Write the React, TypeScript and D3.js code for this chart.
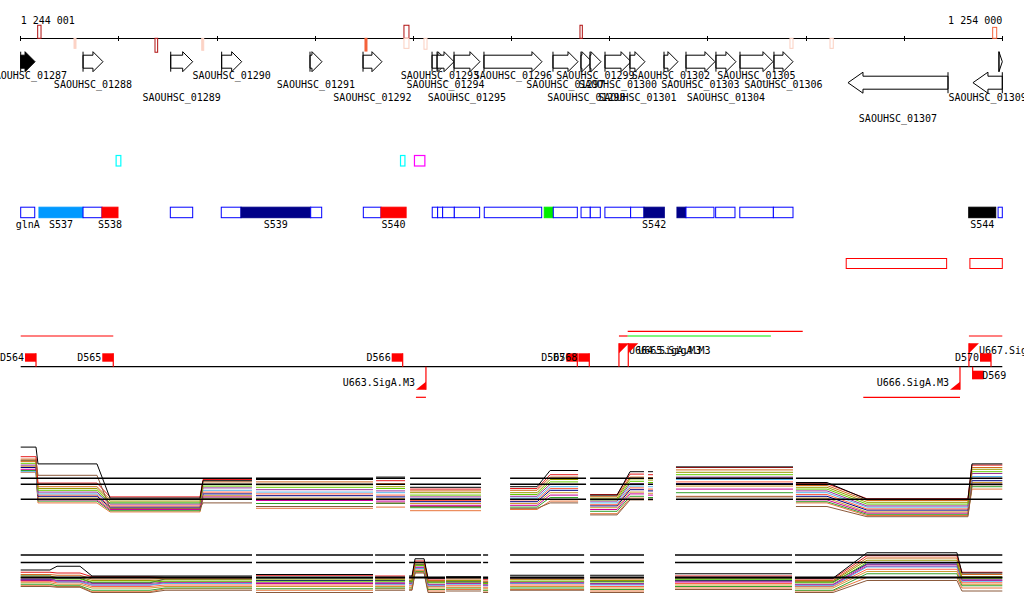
import React from "react";
import * as d3 from "d3";

// ---------- data ----------
const GENOME_START = 1244001;
const GENOME_END = 1254000;

const axisTicks = [1244001, 1245001, 1246001, 1247001, 1248001, 1249001, 1250001, 1251001, 1252001, 1253001, 1254000];
const axisLabels = [1244001, 1254000];

const geneNames = [
  "SAOUHSC_01287", "SAOUHSC_01288", "SAOUHSC_01289", "SAOUHSC_01290", "SAOUHSC_01291",
  "SAOUHSC_01292", "SAOUHSC_01293", "SAOUHSC_01294", "SAOUHSC_01295", "SAOUHSC_01296",
  "SAOUHSC_01297", "SAOUHSC_01298", "SAOUHSC_01299", "SAOUHSC_01300", "SAOUHSC_01301",
  "SAOUHSC_01302", "SAOUHSC_01303", "SAOUHSC_01304", "SAOUHSC_01305", "SAOUHSC_01306",
  "SAOUHSC_01307", "SAOUHSC_01308", "SAOUHSC_01309",
];
const geneStarts = [1243950, 1244636, 1245529, 1246048, 1246948, 1247488, 1248191, 1248242, 1248415, 1248720,
  1249423, 1249708, 1249800, 1249953, 1250207, 1250554, 1250778, 1251083, 1251328, 1251674,
  1252428, 1253966, 1253701];
const geneEnds = [1244147, 1244839, 1245753, 1246252, 1247070, 1247681, 1248353, 1248415, 1248679, 1249311,
  1249678, 1249820, 1249912, 1250218, 1250360, 1250696, 1251073, 1251287, 1251664, 1251868,
  1253447, 1254120, 1254250];
const geneStrands = [1, 1, 1, 1, 1, 1, 1, 1, 1, 1, 1, 1, 1, 1, 1, 1, 1, 1, 1, 1, -1, 1, -1];
const selectedGene = "SAOUHSC_01287";

const markerStarts = [1244174, 1244544, 1245369, 1245845, 1247508, 1247905, 1247905, 1248109, 1249698, 1251837, 1252245, 1253902];
const markerEnds = [1244208, 1244564, 1245396, 1245865, 1247528, 1247956, 1247956, 1248140, 1249722, 1251868, 1252278, 1253943];
const markerSides = [1, -1, -1, -1, -1, 1, -1, -1, 1, -1, -1, 1];
const markerScores = [0.87, 0.67, 0.93, 0.8, 0.85, 0.87, 0.67, 0.73, 0.87, 0.67, 0.67, 0.73];
const markerKinds = ["strong", "weak", "strong", "weak", "mid", "strong", "weakOutline", "weakOutline", "strong", "weakOutline", "weakOutline", "midOutline"];

const siteStarts = [1244973, 1247870, 1248012];
const siteEnds = [1245021, 1247915, 1248118];
const siteKinds = ["cyan", "cyan", "magenta"];

const unitStarts = [1244001, 1244187, 1244636, 1244829, 1245525, 1246044, 1246245, 1246955, 1247491, 1247671,
  1248193, 1248248, 1248299, 1248418, 1248723, 1249334, 1249426, 1249709, 1249803, 1249952,
  1250214, 1250350, 1250686, 1250778, 1251080, 1251326, 1251668, 1253658, 1253957];
const unitEnds = [1244144, 1244636, 1244829, 1244992, 1245753, 1246245, 1246955, 1247067, 1247671, 1247927,
  1248248, 1248299, 1248418, 1248676, 1249308, 1249426, 1249671, 1249803, 1249905, 1250214,
  1250350, 1250557, 1250778, 1251063, 1251277, 1251668, 1251868, 1253933, 1254000];
const unitLabels = ["glnA", "S537", "", "S538", "", "", "S539", "", "", "S540",
  "", "", "", "", "", "", "", "", "", "",
  "", "S542", "", "", "", "", "", "S544", ""];
const unitKinds = ["", "sky", "", "red", "", "", "navy", "", "", "red",
  "", "", "", "", "", "green", "", "", "", "",
  "", "navy", "navy", "", "", "", "", "black", ""];

const antisenseStarts = [1252410, 1253670];
const antisenseEnds = [1253433, 1254000];

const dNames = ["D564", "D565", "D566", "D567", "D568", "D569", "D570"];
const dPos = [1244157, 1244944, 1247892, 1249671, 1249793, 1253698, 1253885];
const dStrands = [1, 1, 1, 1, 1, -1, 1];

const uNames = ["U663.SigA.M3", "U664.SigA.M3", "U665.SigA.M3", "U666.SigA.M3", "U667.SigA.M3"];
const uPos = [1248129, 1250095, 1250190, 1253569, 1253660];
const uStrands = [-1, 1, 1, -1, 1];

const trStarts = [1244001, 1250095, 1250184, 1253660, 1248027, 1252584, 1250184];
const trEnds = [1244944, 1250184, 1251967, 1254000, 1248129, 1253569, 1251643];
const trStrands = [1, 1, 1, 1, -1, -1, 1];
const trTracks = [0, 0, 1, 0, 0, 0, 0];
const trKinds = ["red", "red", "red", "red", "red", "red", "green"];

// expression panel 1
const p1SegStarts = [1244001, 1246398, 1247621, 1247967, 1248986, 1249801, 1250391, 1250676, 1251898];
const p1SegEnds = [1246357, 1247590, 1247916, 1248690, 1249760, 1250350, 1250442, 1251868, 1254000];
const p1PlatStarts = [1244001, 1244177, 1244911, 1245858, 1246398, 1247621, 1247967, 1248986, 1249394, 1249801, 1250208, 1250391, 1250676, 1251898, 1252621, 1253691];
const p1PlatEnds = [1244157, 1244778, 1245828, 1246357, 1247590, 1247916, 1248690, 1249261, 1249679, 1250076, 1250350, 1250442, 1251868, 1252214, 1253650, 1254000];
const p1RefLevels = [11, 10, 7.5];
const p1Values = [
  [16.2, 13.4, 7.7, 10.6, 10.8, 11.2, 9.5, 9.6, 12.3, 8.2, 12.1, 12.1, 12.9, 10.3, 7.5, 13.4],
  [14.0, 11.5, 6.0, 6.9, 6.3, 6.9, 6.3, 6.0, 6.9, 4.9, 7.4, 7.4, 7.9, 6.3, 4.6, 9.9],
  [14.6, 10.2, 7.9, 10.8, 10.9, 10.6, 9.2, 9.3, 11.6, 8.3, 11.7, 11.6, 12.8, 10.1, 7.6, 13.2],
  [14.2, 9.6, 7.5, 10.4, 10.4, 10.1, 8.9, 9.0, 11.2, 8.0, 11.2, 11.1, 12.4, 9.8, 7.3, 12.8],
  [13.9, 9.3, 7.2, 10.0, 9.9, 9.6, 8.6, 8.6, 10.8, 7.7, 10.9, 10.7, 12.0, 9.5, 7.0, 12.5],
  [13.5, 9.0, 6.9, 9.7, 9.5, 9.3, 8.2, 8.3, 10.4, 7.4, 10.5, 10.3, 11.6, 9.2, 6.7, 12.1],
  [13.2, 8.7, 6.7, 9.4, 9.1, 8.9, 7.9, 8.0, 10.0, 7.2, 10.1, 10.0, 11.2, 8.9, 6.4, 11.8],
  [12.1, 8.4, 6.9, 9.0, 8.7, 8.6, 7.6, 7.7, 9.6, 6.9, 9.7, 9.6, 10.8, 8.6, 6.2, 11.3],
  [13.8, 8.2, 6.4, 8.7, 8.4, 8.2, 7.3, 7.4, 9.3, 6.6, 9.4, 9.2, 10.4, 8.3, 5.9, 11.0],
  [12.8, 8.0, 6.2, 8.4, 8.1, 7.9, 7.1, 7.1, 9.0, 6.4, 9.1, 8.9, 10.1, 8.0, 5.7, 10.6],
  [13.0, 7.7, 6.0, 8.1, 7.7, 7.6, 6.8, 6.8, 8.6, 6.1, 8.7, 8.5, 9.7, 7.7, 5.4, 10.3],
  [12.5, 7.4, 5.8, 7.9, 7.3, 7.2, 6.5, 6.5, 8.2, 5.8, 8.4, 8.2, 9.2, 7.4, 5.2, 10.0],
  [12.3, 7.2, 5.6, 7.7, 6.8, 6.8, 6.1, 6.2, 7.8, 5.5, 8.0, 7.8, 8.6, 7.1, 5.0, 9.6],
  [12.0, 6.9, 5.4, 7.6, 6.0, 6.2, 5.6, 5.8, 7.2, 5.1, 7.7, 7.5, 8.0, 6.9, 4.8, 9.2],
];

// expression panel 2
const p2SegStarts = [1244001, 1246398, 1247611, 1247957, 1248334, 1248711, 1248986, 1249801, 1250666, 1251888];
const p2SegEnds = [1246357, 1247590, 1247916, 1248323, 1248690, 1248762, 1249740, 1250350, 1251858, 1254000];
const p2PlatStarts = [1244001, 1244371, 1244727, 1245471, 1246398, 1247611, 1247957, 1248018, 1248150, 1248334, 1248711, 1248986, 1249801, 1250666, 1251888, 1252621, 1253589];
const p2PlatEnds = [1244299, 1244605, 1245318, 1246357, 1247590, 1247916, 1247987, 1248110, 1248323, 1248690, 1248762, 1249740, 1250350, 1251858, 1252275, 1253538, 1254000];
const p2RefLevels = [11, 10, 8];
const p2Values = [
  [9.0, 9.5, 8.2, 8.2, 8.4, 8.0, 8.2, 10.5, 7.9, 8.1, 7.9, 8.3, 8.3, 8.5, 7.9, 11.3, 8.6],
  [6.8, 6.7, 6.0, 6.3, 6.0, 6.3, 6.3, 8.6, 6.0, 6.2, 6.0, 6.3, 6.0, 6.4, 6.0, 7.6, 6.2],
  [8.7, 8.6, 8.1, 8.0, 8.3, 8.2, 8.0, 10.2, 7.8, 8.0, 7.7, 8.0, 8.0, 8.2, 7.8, 10.9, 8.7],
  [8.4, 8.3, 7.8, 7.9, 8.0, 7.9, 7.8, 10.0, 7.6, 7.8, 7.5, 7.8, 7.8, 8.0, 7.6, 10.6, 8.4],
  [8.2, 8.0, 7.6, 7.7, 7.8, 7.7, 7.6, 9.8, 7.5, 7.6, 7.4, 7.7, 7.6, 7.9, 7.5, 10.3, 8.1],
  [8.0, 7.8, 7.4, 7.5, 7.5, 7.5, 7.4, 9.6, 7.3, 7.4, 7.2, 7.5, 7.4, 7.7, 7.3, 10.0, 7.9],
  [7.8, 7.6, 7.2, 7.4, 7.3, 7.3, 7.3, 9.4, 7.1, 7.3, 7.0, 7.3, 7.2, 7.5, 7.1, 9.7, 7.7],
  [8.3, 7.4, 7.0, 7.2, 7.9, 7.1, 7.1, 9.2, 6.9, 7.1, 6.9, 7.2, 7.0, 7.8, 6.9, 9.4, 7.5],
  [7.5, 7.3, 6.8, 7.0, 7.0, 7.0, 6.9, 9.0, 6.8, 6.9, 6.7, 7.0, 6.8, 7.2, 6.8, 9.1, 7.3],
  [7.7, 7.9, 7.3, 7.8, 7.6, 7.6, 7.5, 9.7, 7.4, 7.5, 7.3, 7.9, 7.5, 7.6, 7.4, 9.8, 8.0],
  [7.3, 7.1, 6.6, 6.8, 6.8, 6.8, 6.7, 8.9, 6.6, 6.7, 6.5, 6.8, 6.6, 7.0, 6.6, 8.8, 7.1],
  [7.6, 7.5, 7.0, 7.3, 7.2, 7.2, 7.2, 9.3, 7.0, 7.2, 7.0, 7.4, 7.1, 7.4, 7.0, 9.5, 7.6],
  [7.1, 6.9, 6.3, 6.6, 6.5, 6.6, 6.6, 8.8, 6.4, 6.6, 6.3, 6.6, 6.4, 6.8, 6.3, 8.5, 6.9],
  [6.9, 6.8, 6.1, 6.5, 6.3, 6.5, 6.4, 8.7, 6.2, 6.4, 6.2, 6.4, 6.2, 6.6, 6.2, 8.0, 6.6],
];

const seriesColors = ["#000000", "#8b5a3c", "#e41a1c", "#d2691e", "#999900", "#66cc00", "#993399",
  "#56b4e9", "#ff6347", "#000080", "#cc9933", "#cc0099", "#33a02c", "#e8743b"];

// ---------- styles ----------
const FONT = "'DejaVu Sans Mono', monospace";
const markerStyle: Record<string, { fill: string; stroke: string }> = {
  strong: { fill: "#ffffff", stroke: "#b01010" },
  weak: { fill: "#fcd3c6", stroke: "#fcd3c6" },
  weakOutline: { fill: "#ffffff", stroke: "#fbcfc0" },
  mid: { fill: "#f4623a", stroke: "#f4623a" },
  midOutline: { fill: "#ffffff", stroke: "#f4623a" },
};
const unitFill: Record<string, string> = {
  "": "#ffffff", sky: "#0099ff", red: "#ff0000", navy: "#000088", green: "#00ee00", black: "#000000",
};
const siteColor: Record<string, string> = { cyan: "#00ffff", magenta: "#ff00ff" };
const trColor: Record<string, string> = { red: "#ff0000", green: "#00ee00" };

const x = d3.scaleLinear().domain([GENOME_START, GENOME_END]).range([20.7, 1002.3]);
const X0 = x(GENOME_START);
const X1 = x(GENOME_END);
const clipX = (v: number) => Math.max(X0, Math.min(X1, v));
const fmt = (v: number) => d3.format(",")(v).replace(/,/g, " ");
const markerScale = d3.scaleLinear().domain([0, 1]).range([0, 15]);
const y1 = d3.scaleLinear().domain([4, 16.5]).range([520.3, 445.3]);
const y2 = d3.scaleLinear().domain([5, 13]).range([600, 540]);

function genePath(x0: number, x1: number, strand: number) {
  const w = x1 - x0;
  if (strand > 0) {
    const cy = 61.7, hh = 10, bh = 6.5;
    const head = Math.min(10, w);
    if (head >= w) return `M${x0},${cy - hh}L${x1},${cy}L${x0},${cy + hh}Z`;
    return `M${x0},${cy - bh}L${x1 - head},${cy - bh}L${x1 - head},${cy - hh}L${x1},${cy}L${x1 - head},${cy + hh}L${x1 - head},${cy + bh}L${x0},${cy + bh}Z`;
  } else {
    const cy = 82.7, hh = 10.5, bh = 6.5;
    const head = Math.min(15, w);
    if (head >= w) return `M${x1},${cy - hh}L${x0},${cy}L${x1},${cy + hh}Z`;
    return `M${x1},${cy - bh}L${x0 + head},${cy - bh}L${x0 + head},${cy - hh}L${x0},${cy}L${x0 + head},${cy + hh}L${x0 + head},${cy + bh}L${x1},${cy + bh}Z`;
  }
}

function seriesPath(values: number[], pStarts: number[], pEnds: number[], segStarts: number[], segEnds: number[], ys: d3.ScaleLinear<number, number>) {
  const segOf = (bp: number) => segStarts.findIndex((s, k) => bp >= s && bp <= segEnds[k]);
  const pts: ([number, number] | null)[] = [];
  let prev = -99;
  values.forEach((v, i) => {
    const seg = segOf(pStarts[i]);
    if (prev !== -99 && seg !== prev) pts.push(null);
    pts.push([x(pStarts[i]), ys(v)]);
    pts.push([x(pEnds[i]), ys(v)]);
    prev = seg;
  });
  return d3.line<[number, number] | null>()
    .defined((d) => d !== null)
    .x((d) => (d as [number, number])[0])
    .y((d) => (d as [number, number])[1])(pts) || "";
}

function Panel({ values, pStarts, pEnds, segStarts, segEnds, ys, refs, thickRef }: any) {
  return (
    <g>
      {values.map((_: number[], k: number) => {
        const i = values.length - 1 - k;
        return (
          <path key={i} d={seriesPath(values[i], pStarts, pEnds, segStarts, segEnds, ys)}
            fill="none" stroke={seriesColors[i]} strokeWidth={1} />
        );
      })}
      {segStarts.map((s: number, j: number) =>
        refs.map((r: number) => (
          <line key={`${j}-${r}`} x1={x(s)} x2={x(segEnds[j])} y1={ys(r)} y2={ys(r)}
            stroke="#000" strokeWidth={r === thickRef ? 2 : 1.4} />
        ))
      )}
    </g>
  );
}

export default function App() {
  const geneRowsFwd = [75.3, 84.7, 97.3];
  const geneRowsRev = [107, 97.3, 118.3];
  const axisY = 38.3;
  const midAxisY = 366.7;

  return (
    <div style={{ position: "absolute", left: 0, top: 0 }}>
      <svg width={1024} height={611} style={{ display: "block", background: "#fff" }}
        fontFamily={FONT} fontSize={10}>
        <rect width={1024} height={611} fill="#fff" />
        {/* top axis */}
        <line x1={X0} x2={X1} y1={axisY} y2={axisY} stroke="#000" shapeRendering="crispEdges" />
        {axisTicks.map((t) => (
          <line key={t} x1={x(t)} x2={x(t)} y1={axisY - 2.3} y2={axisY + 2.3} stroke="#000" shapeRendering="crispEdges" />
        ))}
        {axisLabels.map((t, i) => (
          <text key={t} x={x(t)} y={24.3} textAnchor={i === 0 ? "start" : "end"} fill="#000">{fmt(t)}</text>
        ))}
        {/* axis markers */}
        {markerStarts.map((s, i) => {
          const h = markerScale(markerScores[i]);
          const xa = x(s), xb = Math.max(x(markerEnds[i]), xa + 2);
          const st = markerStyle[markerKinds[i]];
          const yTop = markerSides[i] > 0 ? axisY - h : axisY;
          return <rect key={i} x={xa} y={yTop} width={xb - xa} height={h} fill={st.fill} stroke={st.stroke} strokeWidth={1} />;
        })}
        {/* genes */}
        {geneNames.map((name, i) => {
          const x0 = clipX(x(geneStarts[i]));
          const x1 = clipX(x(geneEnds[i]));
          const strand = geneStrands[i];
          const filled = name === selectedGene;
          const cx = (x0 + x1) / 2;
          const rowY = strand > 0 ? geneRowsFwd[i % 3] : geneRowsRev[i % 3];
          const barX = strand > 0 ? x0 : x1;
          const cy = strand > 0 ? 61.7 : 82.7;
          const hh = strand > 0 ? 10 : 10.5;
          return (
            <g key={name}>
              <path d={genePath(x0, x1, strand)} fill={filled ? "#000" : "#fff"} stroke="#000" strokeWidth={1} />
              <line x1={barX} x2={barX} y1={cy - hh} y2={cy + hh} stroke="#000" strokeWidth={1} />
              {x1 - x0 > 5 && (
                <text x={cx} y={rowY + 3.6} textAnchor="middle" fill="#000">{name}</text>
              )}
            </g>
          );
        })}
        {/* sites */}
        {siteStarts.map((s, i) => (
          <rect key={i} x={x(s)} y={155.5} width={x(siteEnds[i]) - x(s)} height={10.5}
            fill="#fff" stroke={siteColor[siteKinds[i]]} strokeWidth={1.2} />
        ))}
        {/* transcription units */}
        {unitStarts.map((s, i) => {
          const xa = x(s), xb = x(unitEnds[i]);
          const k = unitKinds[i];
          return (
            <rect key={i} x={xa} y={207.2} width={xb - xa} height={10.5}
              fill={unitFill[k]} stroke={k === "" ? "#0000ff" : unitFill[k]} strokeWidth={1} />
          );
        })}
        {unitStarts.map((s, i) =>
          unitLabels[i] ? (
            <text key={`l${i}`} x={(x(s) + x(unitEnds[i])) / 2} y={227.6} textAnchor="middle" fill="#000">{unitLabels[i]}</text>
          ) : null
        )}
        {/* antisense boxes */}
        {antisenseStarts.map((s, i) => (
          <rect key={i} x={x(s)} y={258.5} width={x(antisenseEnds[i]) - x(s)} height={10}
            fill="none" stroke="#ff0000" strokeWidth={1} />
        ))}
        {/* transcript lines */}
        {trStarts.map((s, i) => {
          const yy = trStrands[i] > 0 ? (trTracks[i] === 0 ? 336 : 331.3) : 397.3;
          return <line key={i} x1={x(s)} x2={x(trEnds[i])} y1={yy} y2={yy} stroke={trColor[trKinds[i]]} strokeWidth={1.2} />;
        })}
        {/* middle axis */}
        <line x1={X0} x2={X1} y1={midAxisY} y2={midAxisY} stroke="#000" strokeWidth={1.2} />
        {/* TSS U */}
        {uNames.map((n, i) => {
          const xp = x(uPos[i]);
          if (uStrands[i] > 0) {
            return (
              <g key={n}>
                <line x1={xp} x2={xp} y1={343.3} y2={midAxisY} stroke="#ff0000" strokeWidth={1.2} />
                <path d={`M${xp},343.3L${xp + 10},343.3L${xp},353.3Z`} fill="#ff0000" />
                <text x={xp + 10} y={353.6} fill="#000">{n}</text>
              </g>
            );
          }
          return (
            <g key={n}>
              <line x1={xp} x2={xp} y1={midAxisY} y2={389.7} stroke="#ff0000" strokeWidth={1.2} />
              <path d={`M${xp},389.7L${xp - 10},389.7L${xp},381.7Z`} fill="#ff0000" />
              <text x={xp - 11} y={386.3} textAnchor="end" fill="#000">{n}</text>
            </g>
          );
        })}
        {/* D flags */}
        {dNames.map((n, i) => {
          const xp = x(dPos[i]);
          if (dStrands[i] > 0) {
            return (
              <g key={n}>
                <rect x={xp - 11} y={353.3} width={11} height={8.4} fill="#ff0000" />
                <line x1={xp} x2={xp} y1={353.3} y2={midAxisY} stroke="#ff0000" strokeWidth={1.2} />
                <text x={xp - 12} y={360.9} textAnchor="end" fill="#000">{n}</text>
              </g>
            );
          }
          return (
            <g key={n}>
              <line x1={xp} x2={xp} y1={midAxisY} y2={379.3} stroke="#ff0000" strokeWidth={1.2} />
              <rect x={xp} y={370.7} width={11} height={8.6} fill="#ff0000" />
              <text x={xp + 9.5} y={378.6} fill="#000">{n}</text>
            </g>
          );
        })}
        {/* expression panels */}
        <Panel values={p1Values} pStarts={p1PlatStarts} pEnds={p1PlatEnds}
          segStarts={p1SegStarts} segEnds={p1SegEnds} ys={y1} refs={p1RefLevels} thickRef={-1} />
        <Panel values={p2Values} pStarts={p2PlatStarts} pEnds={p2PlatEnds}
          segStarts={p2SegStarts} segEnds={p2SegEnds} ys={y2} refs={p2RefLevels} thickRef={8} />
      </svg>
    </div>
  );
}
